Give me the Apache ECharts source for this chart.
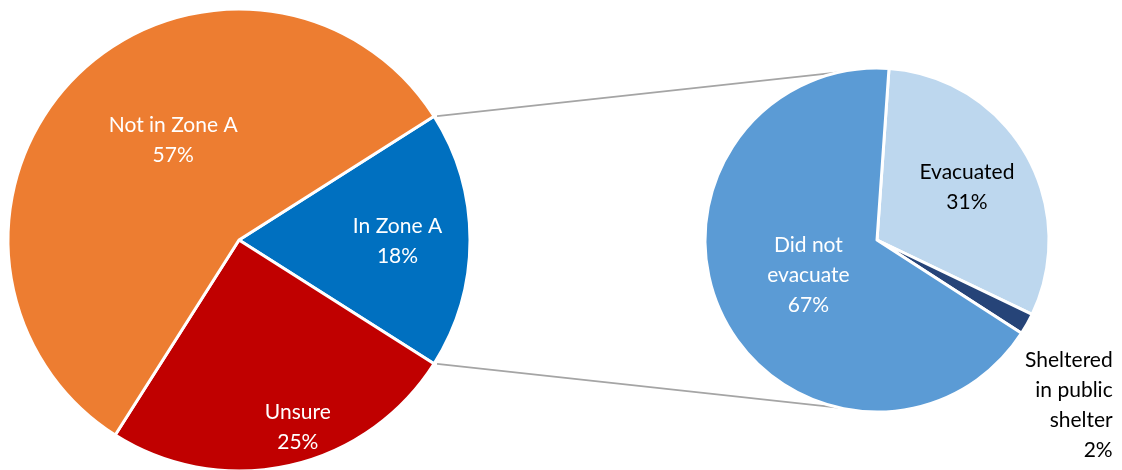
<!DOCTYPE html>
<html>
<head>
<meta charset="utf-8">
<script src="https://cdn.jsdelivr.net/npm/echarts@6/dist/echarts.min.js"></script>
<style>
  html, body { margin: 0; padding: 0; background: #fff; }
  #chart { width: 1122px; height: 470px; }
</style>
</head>
<body>
<div id="chart"></div>
<script>
// main pie
const zoneNames = ['In Zone A', 'Unsure', 'Not in Zone A'];
const zoneValues = [18, 25, 57];
// breakdown of "In Zone A"
const actionNames = ['Evacuated', 'Sheltered\nin public\nshelter', 'Did not\nevacuate'];
const actionValues = [31, 2, 67];

const zoneColors = ['#0070C0', '#C00000', '#ED7D31'];
const actionColors = ['#BDD7EE', '#264478', '#5B9BD5'];
const zoneLabelOffsets = [[40, 1], [33, 72], [18, -16]];
const actionLabelOffsets = [[13, -8], [108, 122], [11, -5]];
const actionLabelColors = ['#000', '#000', '#fff'];

const font = 'Lato, "Open Sans", sans-serif';
const C1 = [239, 240], R1 = 231;
const C2 = [877, 240], R2 = 172;

const chart = echarts.init(document.getElementById('chart'));

// blue slice is centred on the right side
const zoneTotal = zoneValues.reduce((a, b) => a + b, 0);
const halfA = zoneValues[0] / zoneTotal * 180;

const zoneData = zoneNames.map((n, i) => ({
  name: n, value: zoneValues[i],
  itemStyle: { color: zoneColors[i] },
  label: { offset: zoneLabelOffsets[i] }
}));
const actionData = actionNames.map((n, i) => ({
  name: n, value: actionValues[i],
  itemStyle: { color: actionColors[i] },
  label: {
    offset: actionLabelOffsets[i],
    color: actionLabelColors[i],
    formatter: i === 1 ? '{r|{b}\n{d}%}' : '{b}\n{d}%'
  }
}));

// connector lines from the blue slice edges to the second pie
const rad = d => d * Math.PI / 180;
const p1a = [C1[0] + R1 * Math.cos(rad(halfA)) + 3, C1[1] - R1 * Math.sin(rad(halfA))];
const p1b = [C1[0] + R1 * Math.cos(rad(halfA)) + 3, C1[1] + R1 * Math.sin(rad(halfA))];
const p2a = [C2[0] + R2 * Math.cos(rad(103)), C2[1] - R2 * Math.sin(rad(103))];
const p2b = [C2[0] + R2 * Math.cos(rad(103)), C2[1] + R2 * Math.sin(rad(103))];

chart.setOption({
  animation: false,
  textStyle: { fontFamily: font },
  graphic: [
    { type: 'line', shape: { x1: p1a[0], y1: p1a[1], x2: p2a[0], y2: p2a[1] },
      style: { stroke: '#A5A5A5', lineWidth: 1.8 } },
    { type: 'line', shape: { x1: p1b[0], y1: p1b[1], x2: p2b[0], y2: p2b[1] },
      style: { stroke: '#A5A5A5', lineWidth: 1.8 } }
  ],
  series: [
    {
      type: 'pie',
      center: C1,
      radius: R1,
      startAngle: halfA,
      clockwise: true,
      data: zoneData,
      itemStyle: { borderColor: '#fff', borderWidth: 3 },
      label: {
        position: 'inside',
        formatter: '{b}\n{d}%',
        color: '#fff',
        fontSize: 21,
        lineHeight: 30,
        fontFamily: font
      },
      labelLine: { show: false },
      emphasis: { disabled: true }
    },
    {
      type: 'pie',
      center: C2,
      radius: R2,
      startAngle: 86,
      clockwise: true,
      data: actionData,
      itemStyle: { borderColor: '#fff', borderWidth: 3 },
      label: {
        position: 'inside',
        fontSize: 21,
        lineHeight: 30,
        fontFamily: font,
        rich: {
          r: { align: 'right', width: 100, fontSize: 21, lineHeight: 30, color: '#000', fontFamily: font }
        }
      },
      labelLine: { show: false },
      emphasis: { disabled: true }
    }
  ]
});
</script>
</body>
</html>
